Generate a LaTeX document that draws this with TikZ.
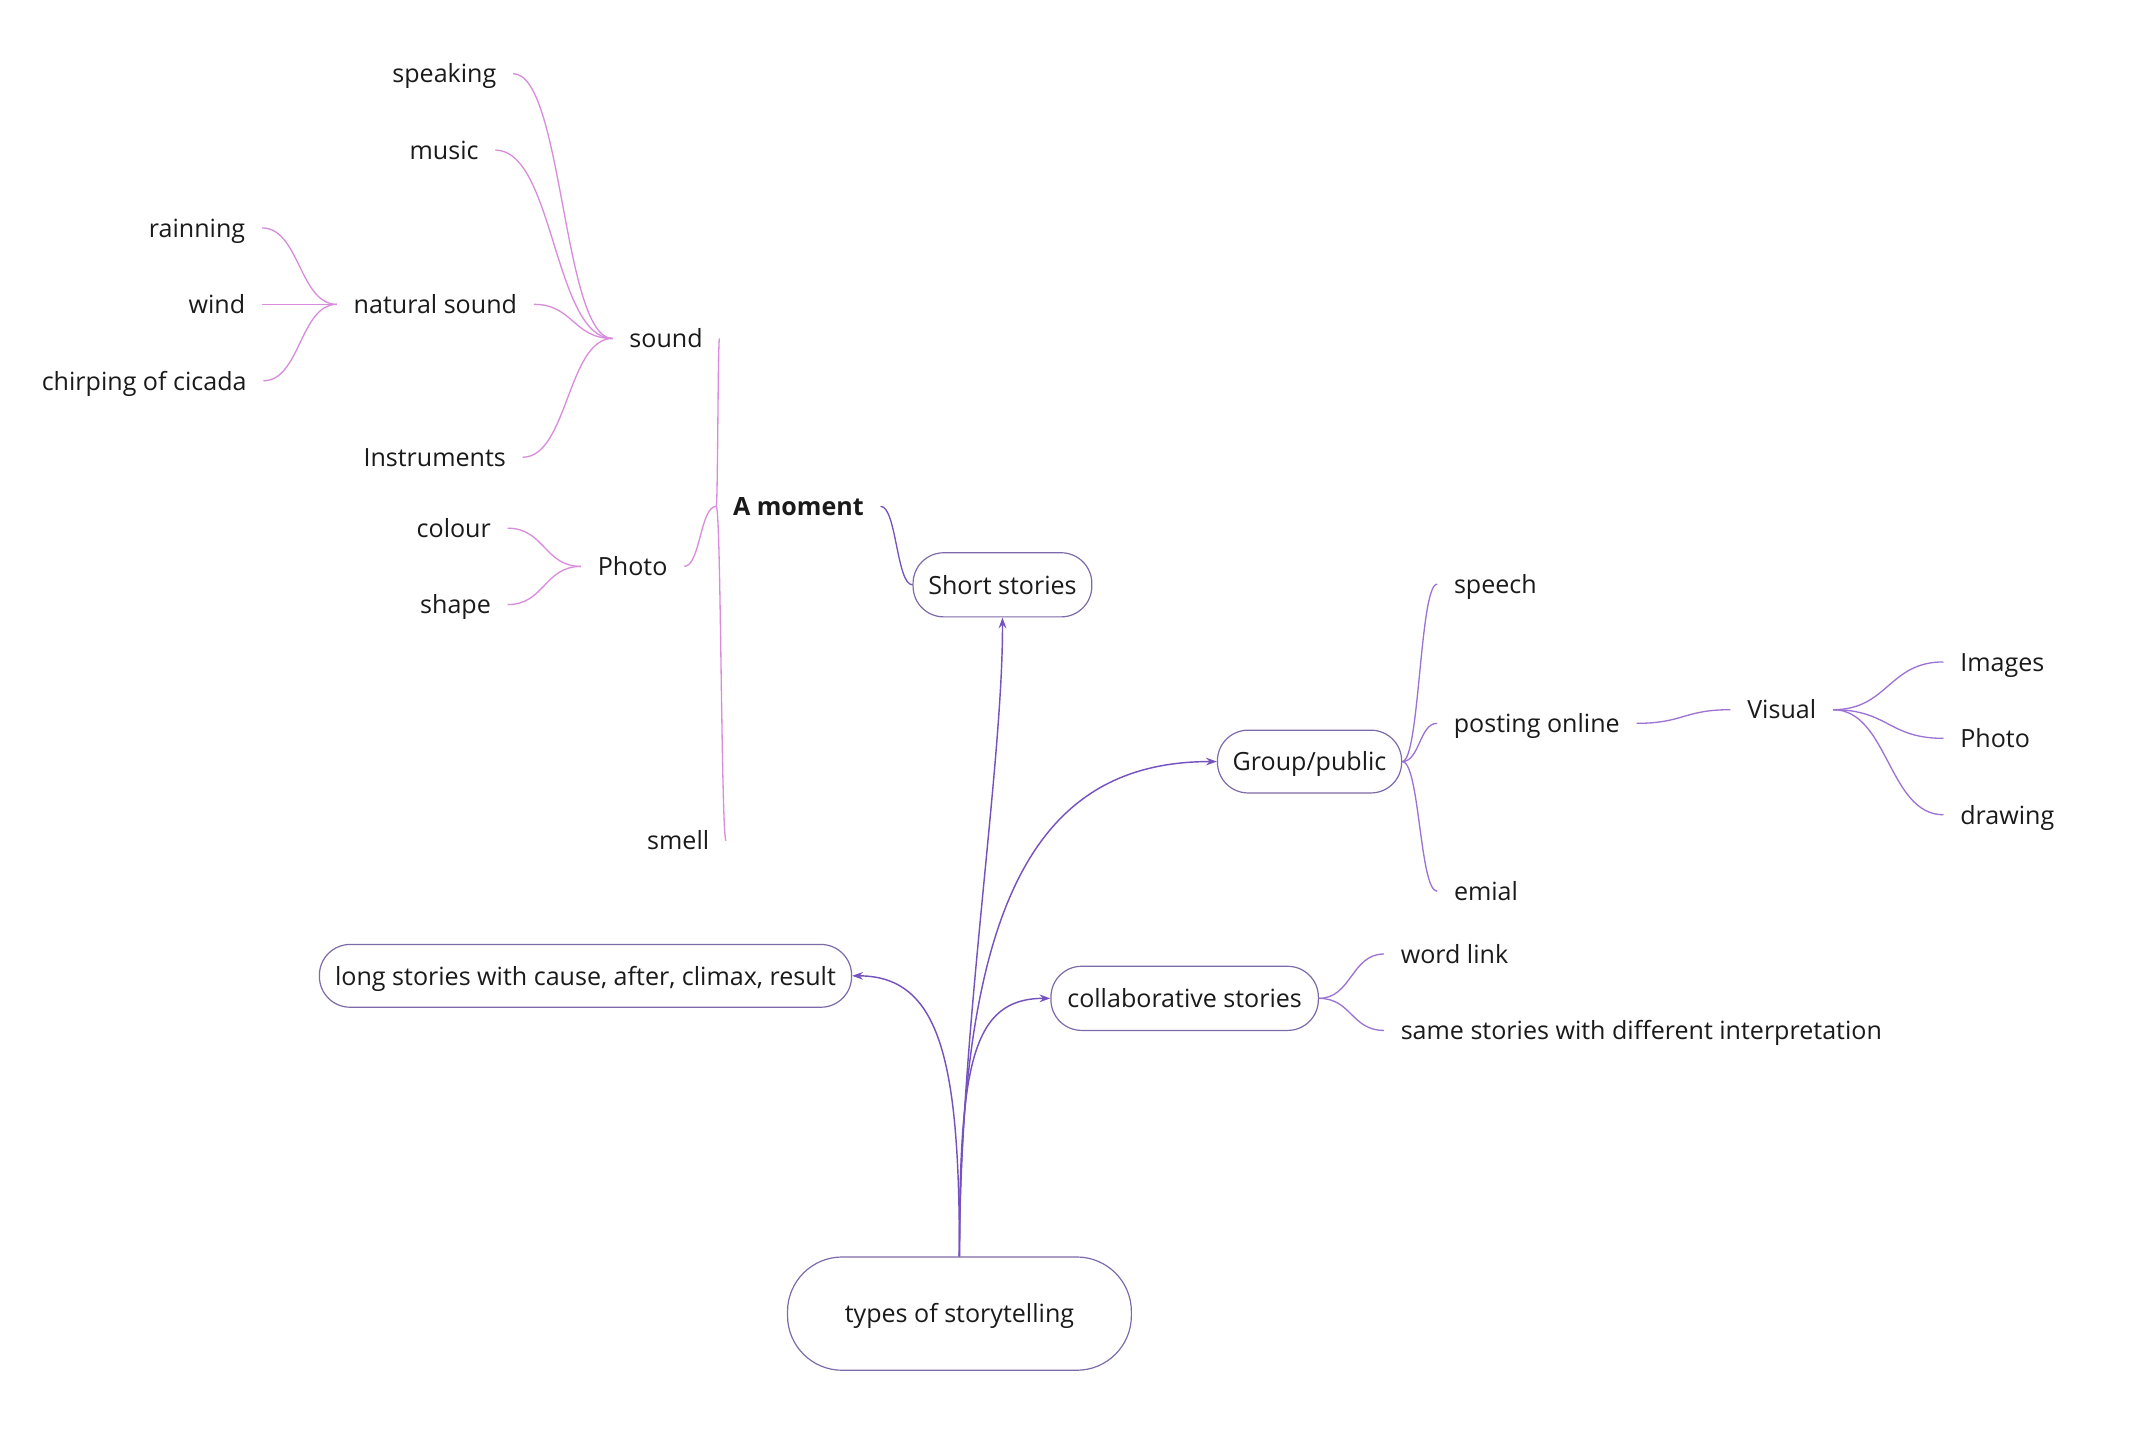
\documentclass[tikz,border=0pt]{standalone}
\usepackage{fontspec}
\setmainfont{Open Sans}
\usetikzlibrary{arrows.meta,calc}
\definecolor{ink}{HTML}{1A1A1A}
\definecolor{mainc}{HTML}{7652BE}
\definecolor{pinkc}{HTML}{D88CDC}
\definecolor{lavc}{HTML}{9C72D2}
\definecolor{boxc}{HTML}{7D6AA8}
\begin{document}
\begin{tikzpicture}[x=0.02cm,y=0.02cm,
  font=\fontsize{10.45pt}{12pt}\selectfont,
  txt/.style={inner xsep=0.24cm, inner ysep=0pt, text height=8.5pt, text depth=0.8pt, text=ink},
  bx/.style={draw=boxc, line width=0.5pt, text=ink, inner xsep=0.2cm, text height=8.5pt, text depth=0.8pt},
  mm/.style={to path={let \p1=(\tikztostart), \p2=(\tikztotarget) in .. controls ({(\x1+\x2)/2},\y1) and ({(\x1+\x2)/2},\y2) .. (\tikztotarget)}},
  pk/.style={draw=pinkc, line width=0.55pt},
  lv/.style={draw=lavc, line width=0.55pt},
  mn/.style={draw=mainc, line width=0.6pt, -{Stealth[length=4.5pt,width=3.2pt]}},
]
\useasboundingbox (0,0) rectangle (1568,-1054);

% boxes
\node[bx, minimum width=5.04cm, minimum height=1.66cm, rounded corners=0.8cm] (types) at (703,-962.5) {types of storytelling};
\node[bx, minimum width=2.62cm, minimum height=0.94cm, rounded corners=0.45cm] (short) at (734.5,-428.5) {Short stories};
\node[bx, minimum width=2.70cm, minimum height=0.92cm, rounded corners=0.45cm] (group) at (959.5,-558) {Group/public};
\node[bx, minimum width=3.92cm, minimum height=0.94cm, rounded corners=0.45cm] (collab) at (868,-731.5) {collaborative stories};
\node[bx, minimum width=7.80cm, minimum height=0.92cm, rounded corners=0.45cm] (long) at (429,-715) {long stories with cause, after, climax, result};

% left tree
\node[txt, font=\fontsize{10.45pt}{12pt}\selectfont\bfseries] (moment) at (585,-371) {A moment};
\node[txt] (sound) at (488,-248) {sound};
\node[txt] (photo) at (463.5,-415) {Photo};
\node[txt, anchor=east] (smell) at (532,-616) {smell};
\node[txt, anchor=east] (speaking) at (376,-54) {speaking};
\node[txt, anchor=east] (music) at (363,-110) {music};
\node[txt] (natural) at (319,-223) {natural sound};
\node[txt, anchor=east] (instr) at (383,-335) {Instruments};
\node[txt, anchor=east] (rain) at (192,-167) {rainning};
\node[txt, anchor=east] (wind) at (192,-223) {wind};
\node[txt, anchor=east] (cicada) at (193,-279) {chirping of cicada};
\node[txt, anchor=east] (colour) at (372,-387) {colour};
\node[txt, anchor=east] (shape) at (372,-443) {shape};

% right tree
\node[txt, anchor=west] (speech) at (1053,-428) {speech};
\node[txt] (posting) at (1126,-530) {posting online};
\node[txt, anchor=west] (emial) at (1053,-653) {emial};
\node[txt] (visual) at (1305.5,-520) {Visual};
\node[txt, anchor=west] (images) at (1424,-485) {Images};
\node[txt, anchor=west] (photob) at (1424,-541) {Photo};
\node[txt, anchor=west] (drawing) at (1424,-597) {drawing};
\node[txt, anchor=west] (wordlink) at (1014,-699) {word link};
\node[txt, anchor=west] (same) at (1014,-755) {same stories with different interpretation};

% main connectors
\draw[mn] (types.north) .. controls (703,-760) and (735,-560) .. (short.south);
\draw[mn] (types.north) .. controls (703,-660) and (760,-558) .. (group.west);
\draw[mn] (types.north) .. controls (703,-780) and (712,-731.5) .. (collab.west);
\draw[mn] (types.north) .. controls (703,-780) and (690,-715) .. (long.east);

% short stories -> A moment
\draw[draw=mainc, line width=0.55pt] (short.west) to[mm] (moment.east);

% A moment branch
\draw[pk] (moment.west) to[mm] (sound.east);
\draw[pk] (moment.west) to[mm] (photo.east);
\draw[pk] (moment.west) to[mm] (smell.east);
\draw[pk] (sound.west) to[mm] (speaking.east);
\draw[pk] (sound.west) to[mm] (music.east);
\draw[pk] (sound.west) to[mm] (natural.east);
\draw[pk] (sound.west) to[mm] (instr.east);
\draw[pk] (natural.west) to[mm] (rain.east);
\draw[pk] (natural.west) to[mm] (wind.east);
\draw[pk] (natural.west) to[mm] (cicada.east);
\draw[pk] (photo.west) to[mm] (colour.east);
\draw[pk] (photo.west) to[mm] (shape.east);

% group branch
\draw[lv] (group.east) to[mm] (speech.west);
\draw[lv] (group.east) to[mm] (posting.west);
\draw[lv] (group.east) to[mm] (emial.west);
\draw[lv] (posting.east) to[mm] (visual.west);
\draw[lv] (visual.east) to[mm] (images.west);
\draw[lv] (visual.east) to[mm] (photob.west);
\draw[lv] (visual.east) to[mm] (drawing.west);

% collaborative branch
\draw[lv] (collab.east) to[mm] (wordlink.west);
\draw[lv] (collab.east) to[mm] (same.west);
\end{tikzpicture}
\end{document}
